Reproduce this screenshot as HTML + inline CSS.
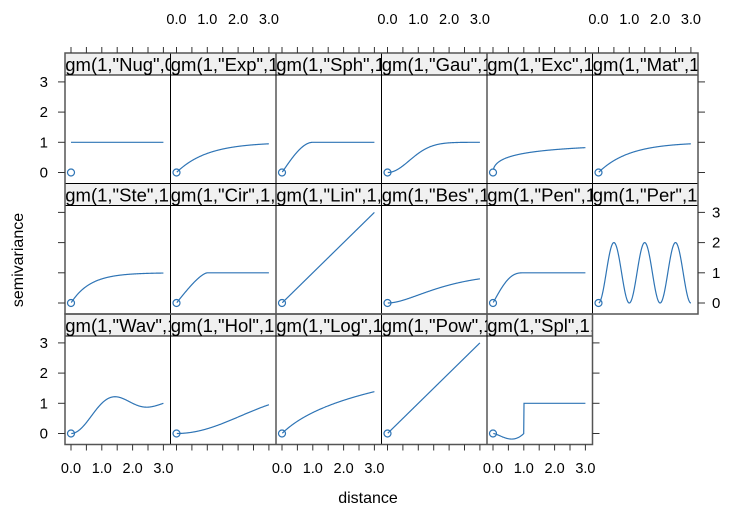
<!DOCTYPE html>
<html><head><meta charset="utf-8"><style>
html,body{margin:0;padding:0;background:#fff;}
svg{display:block;font-family:"Liberation Sans",Arial,sans-serif;}
</style></head><body>
<svg id="s" width="735" height="521" xmlns="http://www.w3.org/2000/svg"></svg>
<script>
const s=document.getElementById('s');
let h='';
const L=65,W=105.5,T=53,RH=130.5,SH=22;
const names=["Nug","Exp","Sph","Gau","Exc","Mat","Ste","Cir","Lin","Bes","Pen","Per","Wav","Hol","Log","Pow","Spl"];
function f(n,x){
 switch(n){
 case "Nug":return 1;
 case "Exp":case "Mat":return 1-Math.exp(-x);
 case "Sph":return x<1?1.5*x-0.5*x*x*x:1;
 case "Gau":return 1-Math.exp(-x*x);
 case "Exc":return 1-Math.exp(-Math.sqrt(x));
 case "Ste":return 1-Math.exp(-1.6*x);
 case "Cir":return x<1?2/Math.PI*(x*Math.sqrt(1-x*x)+Math.asin(x)):1;
 case "Lin":case "Pow":return x;
 case "Bes":return 1-(1+x)*Math.exp(-x);
 case "Pen":return x<1?15/8*x-5/4*Math.pow(x,3)+3/8*Math.pow(x,5):1;
 case "Per":return 1-Math.cos(2*Math.PI*x);
 case "Wav":{const u=Math.PI*x;return 1-Math.sin(u)/u;}
 case "Hol":return 1-Math.sin(x)/x;
 case "Log":return Math.log(x+1);
 case "Spl":return x<1?x*x*Math.log(x):1;
 }
}
const xs=x=>6+x*30.8;
for(let i=0;i<17;i++){
 const r=Math.floor(i/6),c=i%6;
 const px=L+c*W,py=T+r*RH;
 const y0=py+SH+97.5;
 h+=`<svg x="${px}" y="${py}" width="${W}" height="${SH}"><rect width="${W}" height="${SH}" fill="#f0f0f0"/><text x="-9" y="18" font-size="18.5" fill="#000">vgm(1,"${names[i]}",${names[i]=="Nug"?"0":"1"},0)</text></svg>`;
 h+=`<rect x="${px}" y="${py}" width="${W}" height="${SH}" fill="none" stroke="#000" stroke-width="1"/>`;
 h+=`<rect x="${px}" y="${py+SH}" width="${W}" height="${RH-SH}" fill="none" stroke="#000" stroke-width="1"/>`;
 let d='';
 const n=names[i];
 const start=n=="Nug"?0:0.01;
 for(let k=0;k<=300;k++){const x=start+(3-start)*k/300;const y=f(n,x);d+=(k?'L':'M')+(px+xs(x)).toFixed(2)+','+(y0-y*30.2).toFixed(2);}
 h+=`<path d="${d}" fill="none" stroke="#2e74b5" stroke-width="1.2"/>`;
 h+=`<circle cx="${px+xs(0)}" cy="${y0}" r="3.5" fill="none" stroke="#2e74b5" stroke-width="1.2"/>`;
}
h+=`<rect x="${L}" y="${T}" width="${6*W}" height="${2*RH}" fill="none" stroke="#555" stroke-width="1.5"/>`;
h+=`<rect x="${L}" y="${T+2*RH}" width="${5*W}" height="${RH}" fill="none" stroke="#555" stroke-width="1.5"/>`;
for(let c=0;c<6;c++){
 const px=L+c*W;
 for(let k=0;k<7;k++){
  const x=px+xs(k*0.5);
  h+=`<line x1="${x}" y1="${T-6}" x2="${x}" y2="${T}" stroke="#333"/>`;
  if(c<5)h+=`<line x1="${x}" y1="${T+3*RH}" x2="${x}" y2="${T+3*RH+6}" stroke="#333"/>`;
 }
 for(let k=0;k<4;k++){
  const x=px+xs(k);
  if(c%2==1)h+=`<text x="${x}" y="24" font-size="14.5" text-anchor="middle">${k}.0</text>`;
  if(c%2==0&&c<5)h+=`<text x="${x}" y="473" font-size="14.5" text-anchor="middle">${k}.0</text>`;
 }
}
for(let r=0;r<3;r++){
 const y0=T+r*RH+SH+97.5;
 const rx=r<2?L+6*W:L+5*W;
 for(let k=0;k<4;k++){
  const y=y0-k*30.2;
  h+=`<line x1="${L-7}" y1="${y}" x2="${L}" y2="${y}" stroke="#333"/>`;
  h+=`<line x1="${rx}" y1="${y}" x2="${rx+7}" y2="${y}" stroke="#333"/>`;
  if(r!=1)h+=`<text x="48" y="${y+5}" font-size="15" text-anchor="end">${k}</text>`;
  else h+=`<text x="712" y="${y+5}" font-size="15">${k}</text>`;
 }
}
h+=`<text x="368" y="503" font-size="16" text-anchor="middle">distance</text>`;
h+=`<text transform="translate(23,260) rotate(-90)" font-size="16" text-anchor="middle">semivariance</text>`;
s.innerHTML=h;
</script>
</body></html>
